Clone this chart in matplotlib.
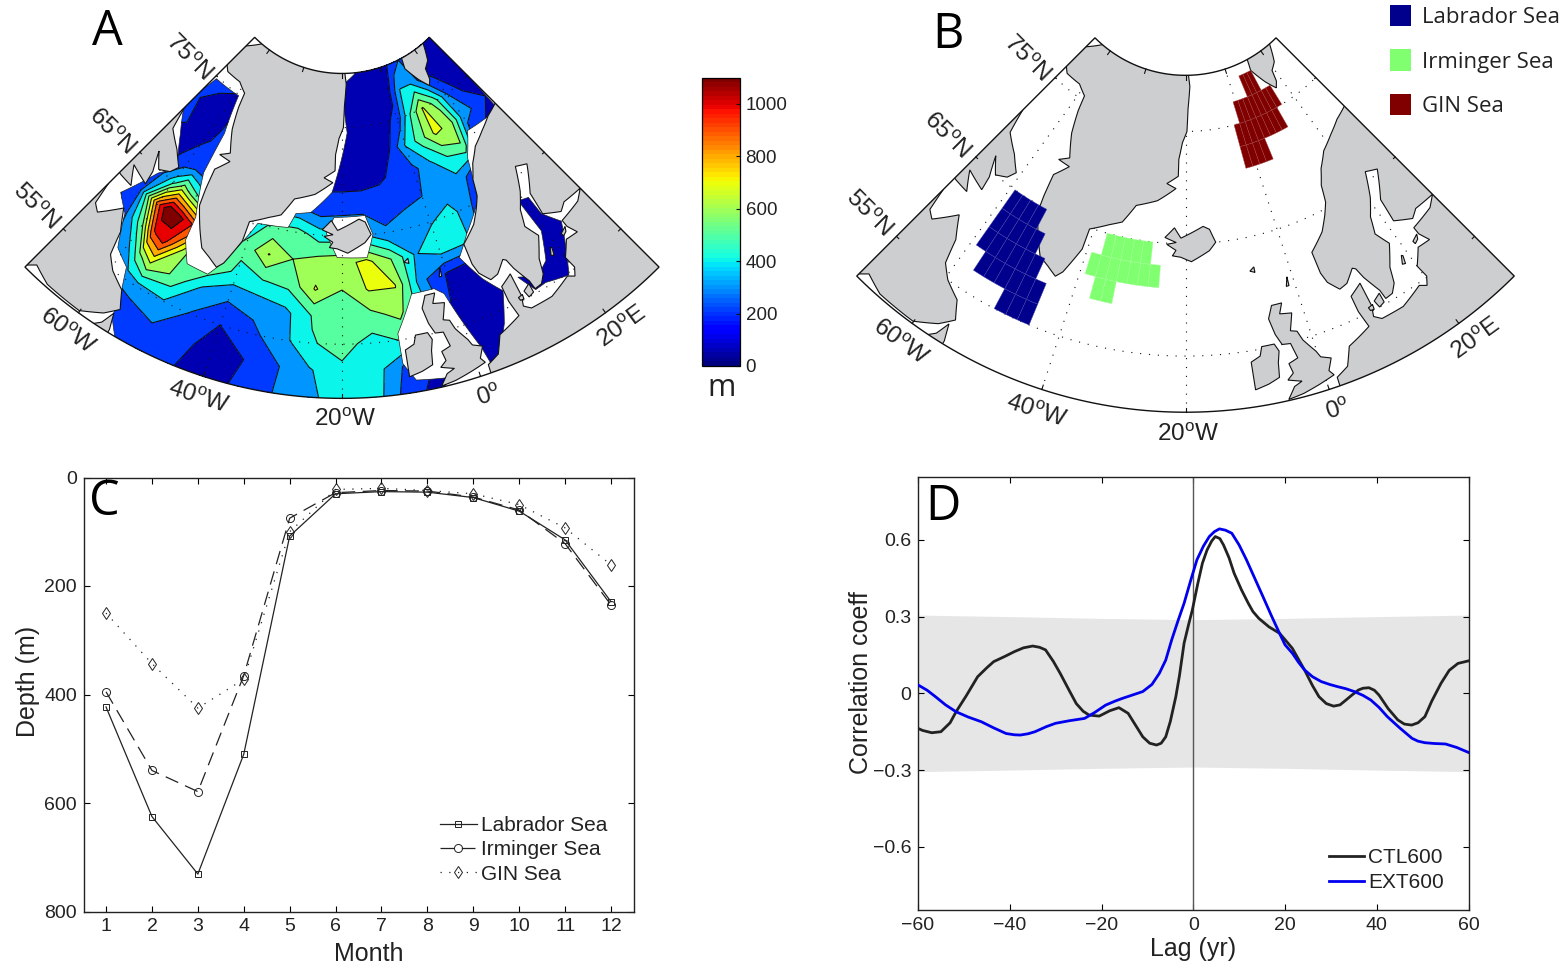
import numpy as np
import matplotlib
matplotlib.use('Agg')
import matplotlib.pyplot as plt
from matplotlib.path import Path
from matplotlib.patches import PathPatch, Patch
from matplotlib.collections import PolyCollection
from matplotlib.colors import ListedColormap, Normalize
from matplotlib.cm import ScalarMappable

plt.rcParams['font.family'] = ['Liberation Sans', 'DejaVu Sans']
plt.rcParams['mathtext.fontset'] = 'custom'
plt.rcParams['mathtext.rm'] = 'Liberation Sans'
plt.rcParams['text.color'] = '#222222'
plt.rcParams['axes.labelcolor'] = '#222222'
plt.rcParams['xtick.labelcolor'] = '#222222'
plt.rcParams['ytick.labelcolor'] = '#222222'

# ---------------- panel A: mixed-layer depth (m), rows by latitude -----------
grid_lon = [-70, -65, -60, -57.5, -55, -50, -45, -40, -35, -30, -25, -20, -15, -10, -5, 0, 5, 10, 15, 20, 25, 30]
grid_lat = [50, 52.5, 55, 57.5, 60, 62.5, 65, 67.5, 70, 72.5, 75, 77.5, 80]
mld_50 = [150, 150, 150, 150, 150, 170, 105, 60, 115, 200, 280, 340, 340, 130, 60, 60, 50, 50, 50, 50, 50, 50]
mld_52 = [100, 100, 120, 135, 150, 190, 130, 60, 100, 190, 290, 375, 350, 170, 80, 70, 60, 50, 50, 50, 50, 50]
mld_55 = [100, 150, 200, 225, 250, 290, 190, 100, 170, 260, 390, 440, 360, 410, 100, 50, 40, 30, 50, 50, 50, 50]
mld_57 = [100, 150, 250, 450, 600, 470, 280, 210, 230, 270, 410, 450, 470, 530, 300, 60, 50, 50, 50, 50, 50, 50]
mld_60 = [100, 100, 480, 880, 950, 500, 500, 370, 395, 420, 610, 500, 610, 605, 230, 90, 60, 50, 50, 50, 50, 50]
mld_62 = [100, 110, 850, 1095, 1050, 820, 350, 430, 605, 500, 540, 560, 630, 500, 290, 370, 360, 150, 100, 50, 50, 50]
mld_65 = [100, 100, 350, 550, 450, 300, 300, 350, 430, 440, 350, 350, 300, 210, 270, 290, 340, 200, 100, 50, 50, 50]
mld_67 = [80, 80, 120, 115, 110, 150, 200, 200, 200, 180, 130, 150, 170, 170, 170, 200, 240, 260, 100, 50, 50, 50]
mld_70 = [120, 90, 90, 105, 120, 150, 120, 100, 90, 80, 80, 70, 60, 80, 130, 170, 280, 400, 480, 100, 50, 50]
mld_72 = [110, 70, 70, 95, 120, 120, 100, 90, 80, 70, 70, 70, 50, 60, 100, 310, 450, 620, 580, 250, 180, 90]
mld_75 = [120, 120, 100, 100, 100, 80, 80, 70, 60, 60, 60, 60, 50, 60, 70, 130, 400, 610, 450, 200, 70, 50]
mld_77 = [60, 60, 60, 60, 60, 60, 60, 60, 60, 60, 60, 50, 40, 50, 50, 70, 300, 300, 150, 60, 50, 50]
mld_80 = [50, 50, 50, 50, 50, 50, 50, 50, 50, 50, 50, 50, 50, 50, 50, 50, 120, 200, 150, 60, 50, 50]
mld_levels = [0, 100, 200, 300, 400, 500, 600, 700, 800, 900, 1000, 1100]
cbar_ticks = [0, 200, 400, 600, 800, 1000]

# model ocean outline (lon, lat)
ocean_main = [(-53.7, 49), (-53.7, 49.9), (-55.6, 51.4), (-56.4, 53.7), (-58, 56), (-61.1, 57), (-63.9, 59.9), (-67.1, 61.1),
              (-63.9, 64.7), (-61.2, 66.2), (-65.9, 68.8), (-71, 71.2), (-69.2, 74.8), (-59.3, 74.9), (-56.3, 71.3),
              (-55.4, 67.2), (-51.9, 63.3), (-51.5, 61), (-49.2, 59.1), (-45, 59), (-43.9, 59.9), (-40, 63.9), (-39, 65),
              (-32.2, 65.3), (-31, 66.7), (-27.5, 67), (-22.6, 69), (-18.2, 74.5), (-20, 78.9), (-13.5, 79.9), (-13.5, 81),
              (31, 81), (29.4, 70.9), (18.7, 71.1), (14.6, 69), (11.6, 65.1), (6.4, 62.8), (3.2, 61), (5.7, 58.4), (8.1, 56.6),
              (6.1, 53.8), (3.7, 51.4), (2, 50.9), (1.5, 52.5), (-0.3, 55.8), (-1.6, 58.3), (-3.1, 59), (-7.3, 59), (-10.8, 55.6),
              (-10.7, 52.8), (-9.1, 51.1), (-4.3, 50.7), (-5.4, 49.9), (-5.4, 49)]
ocean_baltic = [(19, 63.1), (21.1, 62.8), (21.2, 60.9), (23.3, 59.2), (18.8, 54.8), (15, 55.4), (13, 55.3), (11.4, 57.1),
                (14.5, 56.3), (17, 57.1), (19.3, 59.6)]
iceland_mask = [(-21.9, 66.7), (-14.5, 66.8), (-13.1, 65), (-14.8, 62.9), (-21, 63), (-23.5, 65.2)]

# coastlines (lon, lat)
greenland = [(-19, 81), (-18, 79), (-19, 77), (-19.5, 75), (-21, 74), (-22, 72.5), (-22, 71), (-25, 70.3), (-22.5, 69.9), (-27, 68.7),
             (-32, 68), (-34.4, 66.3), (-37, 65.8), (-40.9, 64.9), (-41, 63), (-43, 60.5), (-44, 59.9), (-46, 60.5), (-48, 61),
             (-50, 62.5), (-52.4, 64.4), (-53, 66), (-53.5, 68), (-51, 69.3), (-54.3, 69.4), (-52, 70), (-55, 72), (-57, 74),
             (-58, 75.4), (-62, 76), (-68, 76), (-71, 76.6), (-73, 78.2), (-65, 80), (-60, 81.5)]
baffin = [(-72, 71.3), (-70, 70.9), (-68.3, 68.7), (-64, 67.5), (-61, 66.3), (-62, 65.5), (-64.3, 65), (-67, 66.3), (-65, 64.5),
          (-64.5, 63.2), (-69, 63.8), (-66.5, 62.2), (-69.5, 62.3), (-72, 62.5)]
labrador = [(-72, 61), (-70, 60.9), (-69.2, 58.8), (-67.8, 58.3), (-64.7, 60.2), (-62.4, 58.3), (-61.4, 56.1), (-59.5, 55),
            (-56.6, 54), (-55.2, 52.4), (-57, 51.3), (-60.1, 50.2), (-66, 50.25), (-69, 50.9), (-72, 49)]
newfoundland = [(-55.7, 51.8), (-56.5, 50.5), (-58.2, 49.5), (-55, 49.5), (-55, 50.3)]
iceland = [(-24.5, 65.5), (-22.5, 66.4), (-21, 65.5), (-18, 66.1), (-16, 66.5), (-14.6, 66.2), (-13.5, 65), (-15, 64.3), (-18.8, 63.4),
           (-21, 63.8), (-22.7, 63.9), (-22, 64.4), (-24, 64.9), (-22, 65.1)]
ireland = [(-10, 52), (-10, 54), (-8.5, 54.4), (-8, 55.2), (-6, 55.2), (-5.5, 54.5), (-6, 53.5), (-6.3, 52.2), (-8, 51.8), (-10, 51.5)]
britain = [(-5.7, 50.1), (-3.5, 50.3), (-1, 50.7), (1.3, 51.1), (0.8, 51.6), (1.7, 52.6), (0.3, 53), (-0.1, 53.6), (-1.5, 54.9), (-2, 55.8),
           (-3, 56), (-2, 57.5), (-4, 57.7), (-3.2, 58.6), (-5, 58.6), (-6, 57.5), (-5.5, 56), (-4.8, 55), (-3.5, 54.9), (-3, 53.5),
           (-4.5, 53.2), (-4.2, 52.3), (-5.2, 51.8), (-3.3, 51.4), (-4.5, 51.1)]
europe = [(26, 71), (22, 70.3), (18, 69.5), (15, 68.3), (13, 67), (12, 65.5), (10.5, 64.5), (8.5, 63.3), (5, 62), (5, 60), (5.5, 59), (7, 58),
          (8.5, 58.2), (10.5, 59.2), (11, 59), (11.5, 58), (12.8, 56.3), (13, 55.4), (14.3, 55.5), (15.4, 56.2), (16.2, 57.6), (18.4, 59.4),
          (17.2, 60.8), (18.3, 62.3), (20.5, 63.7), (23, 65.8), (25.4, 65.3), (21.9, 63), (21.4, 60.8), (24.4, 59.9), (26, 60.4),
          (30, 60.3), (28, 59.6), (23.5, 59.2), (23.5, 58.5), (24.3, 57.5), (22, 57.6), (20, 56.3), (20.3, 55.1), (19.5, 54.4), (18.5, 54.8),
          (14.7, 54), (11, 54), (10, 54.5), (10.5, 55.5), (10.5, 57.7), (8.2, 57), (8.2, 55.5), (8.7, 53.9), (7, 53.5), (4.8, 53),
          (3.5, 51.4), (1.6, 50.8), (1.5, 49), (36, 49), (36, 72), (29, 71.3)]
svalbard = [(16.5, 76.5), (14, 77.5), (11, 79), (12, 80), (16, 80.2), (20, 80.6), (27, 80.6), (22, 78.5), (19, 78), (18, 77)]
zealand = [(11.2, 55.7), (12.5, 56.1), (12.5, 55.2), (11.5, 55)]
funen = [(9.9, 55.4), (10.7, 55.5), (10.6, 55.05), (10, 55.1)]
gotland = [(18.2, 57.2), (18.9, 57.9), (19.1, 57.8), (18.7, 57.1)]
saaremaa = [(21.9, 58.3), (23.2, 58.6), (22.8, 58.2), (22, 58)]
faroe = [(-7.5, 62), (-6.6, 62.3), (-6.6, 61.8)]
shetland = [(-1.6, 59.9), (-1, 60.7), (-1.1, 59.9)]
land_polygons = [greenland, baffin, labrador, newfoundland, iceland, ireland, britain, europe, svalbard, zealand, funen,
                 gotland, saaremaa, faroe, shetland]

# ---------------- panel B: regions as (lat0, lat1, lon0, lon1) rows of 2-degree cells -----------
labrador_rows = [(55, 57, -51, -45), (57, 59, -57, -45), (59, 61, -59, -47), (61, 63, -59, -49), (63, 65, -59, -51)]
irminger_rows = [(59, 61, -37, -33), (61, 63, -39, -25), (63, 65, -37, -27)]
gin_rows = [(71, 73, -3, 5), (73, 75, -3, 13), (75, 77, -1, 15), (77, 79, 5, 11)]
region_names = ['Labrador Sea', 'Irminger Sea', 'GIN Sea']
region_colors = ['#00008C', '#80FF70', '#800000']

# ---------------- panel C -----------
months = list(range(1, 13))
depth_lab = [423, 625, 731, 510, 108, 30, 26, 27, 37, 62, 115, 229]
depth_irm = [395, 540, 579, 365, 75, 28, 24, 25, 36, 60, 122, 235]
depth_gin = [250, 343, 425, 372, 100, 22, 20, 24, 30, 50, 93, 161]

# ---------------- panel D -----------
band_lag = [-60, -40, -20, 0, 20, 40, 60]
band_half = [0.306, 0.30, 0.293, 0.288, 0.293, 0.30, 0.306]
ctl_lag = [-60, -59, -57, -55, -53, -51.7, -49.5, -47, -45, -43.5, -41, -39, -37, -35, -33.5, -32.2, -30.5, -29, -27, -25.5, -24, -22.7,
           -20.5, -18.2, -16.2, -14.2, -11, -9.5, -8, -7, -6, -5, -3.8, -3, -2, -1, -0.2, 1, 2, 3, 4, 4.8, 5.8, 6.6, 7.8, 8.9, 10.5, 12,
           13, 14.3, 16.5, 18.8, 20, 21.6, 24.3, 26, 27.4, 29, 30.6, 32, 33.3, 34.5, 36, 37, 38.3, 39.5, 40.5, 42.5, 44.6, 46, 47.6, 49,
           50.5, 52, 54, 55.8, 57.7, 60]
ctl_r = [-0.137, -0.145, -0.154, -0.15, -0.115, -0.072, -0.01, 0.065, 0.1, 0.124, 0.145, 0.163, 0.178, 0.185, 0.18, 0.17, 0.125, 0.078,
         0.01, -0.04, -0.07, -0.085, -0.089, -0.068, -0.056, -0.078, -0.17, -0.195, -0.202, -0.195, -0.17, -0.11, -0.013, 0.07, 0.196,
         0.27, 0.326, 0.43, 0.509, 0.56, 0.595, 0.613, 0.605, 0.58, 0.53, 0.47, 0.405, 0.352, 0.32, 0.293, 0.26, 0.235, 0.21, 0.176,
         0.09, 0.03, -0.013, -0.04, -0.05, -0.045, -0.026, -0.008, 0.013, 0.02, 0.022, 0.012, -0.007, -0.06, -0.104, -0.12, -0.124,
         -0.115, -0.091, -0.03, 0.039, 0.09, 0.117, 0.127]
ext_lag = [-60, -58, -56.2, -54, -51.7, -49, -46.2, -43.5, -40.8, -39, -37.7, -36, -34.5, -32, -30, -27, -23.7, -21.5, -19.1, -17, -15.5,
           -13, -11, -9, -7.4, -6, -4.7, -3.3, -2, -0.5, 0.8, 2.2, 3.5, 4.6, 5.7, 7, 8.4, 10, 11.6, 13.4, 15.2, 17, 18.8, 20, 21.6, 23,
           24.3, 26, 27.9, 29.7, 31.5, 33.3, 35.1, 37, 38.7, 40.5, 42.3, 45, 47.7, 49, 50.5, 52.5, 55, 57.5, 60]
ext_r = [0.033, 0.012, -0.013, -0.045, -0.072, -0.093, -0.111, -0.135, -0.157, -0.162, -0.163, -0.158, -0.15, -0.13, -0.117, -0.107,
         -0.098, -0.075, -0.046, -0.03, -0.02, -0.005, 0.007, 0.035, 0.078, 0.13, 0.209, 0.285, 0.352, 0.445, 0.522, 0.575, 0.613, 0.632,
         0.643, 0.638, 0.626, 0.58, 0.522, 0.45, 0.378, 0.305, 0.235, 0.19, 0.157, 0.12, 0.091, 0.065, 0.046, 0.035, 0.026, 0.018, 0.007,
         -0.008, -0.026, -0.055, -0.091, -0.135, -0.176, -0.187, -0.193, -0.196, -0.198, -0.212, -0.231]

# ---------------- figure -----------
W, H = 1568, 969
fig = plt.figure(figsize=(W / 100, H / 100), dpi=100, facecolor='white')


def px_axes(left, top, right, bottom, **kw):
    return fig.add_axes([left / W, 1 - bottom / H, (right - left) / W, (bottom - top) / H], **kw)


APEX_LAT = 91.4
CONE = 0.9
MID_LON = -20


def project(lon, lat):
    lon = np.asarray(lon, float)
    lat = np.asarray(lat, float)
    rho = APEX_LAT - lat
    th = np.radians(CONE * (lon - MID_LON))
    return rho * np.sin(th), -rho * np.cos(th)


def densify(poly, closed=True, n=8):
    pts = list(poly) + ([poly[0]] if closed else [])
    lon, lat = [], []
    for (a, b), (c, d) in zip(pts[:-1], pts[1:]):
        for t in np.linspace(0, 1, n, endpoint=False):
            lon.append(a + (c - a) * t)
            lat.append(b + (d - b) * t)
    lon.append(pts[-1][0])
    lat.append(pts[-1][1])
    return project(lon, lat)


def poly_path(poly):
    x, y = densify(poly)
    return Path(np.column_stack([x, y]), closed=True)


def map_axes(left, top, right, bottom, cx, cy, scale):
    ax = px_axes(left, top, right, bottom)
    ax.set_xlim((left - cx) / scale, (right - cx) / scale)
    ax.set_ylim(-(bottom - cy) / scale, -(top - cy) / scale)
    ax.axis('off')
    return ax


def sector_patch(ax):
    lons = np.linspace(-70, 30, 120)
    x1, y1 = project(lons, np.full_like(lons, 50.0))
    x2, y2 = project(lons[::-1], np.full_like(lons, 80.0))
    verts = np.column_stack([np.r_[x1, x2, x1[0]], np.r_[y1, y2, y1[0]]])
    p = PathPatch(Path(verts, closed=True), fc='none', ec='#111111', lw=1.0, zorder=8, transform=ax.transData)
    ax.add_patch(p)
    return p


def draw_land(ax, sector):
    for poly in land_polygons:
        p = PathPatch(poly_path(poly), fc='#CDCED0', ec='#111111', lw=0.8, zorder=5)
        ax.add_patch(p)
        p.set_clip_path(sector)


def draw_graticule(ax, sector):
    style = dict(color='#111111', lw=0.8, ls=(0, (1, 7)), zorder=4.5)
    for lon in [-60, -40, -20, 0, 20]:
        x, y = project(np.full(40, lon), np.linspace(50, 80, 40))
        ax.plot(x, y, **style)
        for a, b in [(50, 50.4), (79.6, 80)]:
            x, y = project([lon, lon], [a, b])
            ax.plot(x, y, color='#111111', lw=0.8, zorder=6)
    for lat in [55, 65, 75]:
        x, y = project(np.linspace(-70, 30, 120), np.full(120, lat))
        ax.plot(x, y, **style)
        for a, b in [(-70, -69.5), (29.5, 30)]:
            x, y = project([a, b], [lat, lat])
            ax.plot(x, y, color='#111111', lw=0.8, zorder=6)


def draw_map_labels(ax):
    deg = r'$^{\mathrm{o}}$'
    items = [(-81.2, 74.1, '75' + deg + 'N', -45), (-77.5, 64.3, '65' + deg + 'N', -45), (-75.6, 54.5, '55' + deg + 'N', -45),
             (-59.8, 48.0, '60' + deg + 'W', -36), (-39.8, 48.0, '40' + deg + 'W', -18), (-19.6, 48.0, '20' + deg + 'W', 0),
             (0.3, 48.0, '0' + deg, 18), (20.6, 48.0, '20' + deg + 'E', 36)]
    for lon, lat, s, rot in items:
        x, y = project(lon, lat)
        ax.text(float(x), float(y), s, fontsize=17.5, rotation=rot, rotation_mode='anchor', ha='center', va='center', zorder=9)


# --- A ---
ax_a = map_axes(0, 0, 800, 450, 342, -50, 10.83)
sector_a = sector_patch(ax_a)
field = np.array([mld_50, mld_52, mld_55, mld_57, mld_60, mld_62, mld_65, mld_67, mld_70, mld_72, mld_75, mld_77, mld_80], float)
LON, LAT = np.meshgrid(grid_lon, grid_lat)
X, Y = project(LON, LAT)
jet = plt.get_cmap('jet')
fill_colors = [jet(0.045)] + [jet(v / 1100) for v in mld_levels[2:]]
cf = ax_a.contourf(X, Y, field, levels=mld_levels, colors=fill_colors, zorder=1)
cl = ax_a.contour(X, Y, field, levels=mld_levels[1:-1], colors='#111111', linewidths=0.8, zorder=2)
ocean_path = Path.make_compound_path(poly_path(ocean_main), poly_path(ocean_baltic))
ocean_clip = PathPatch(ocean_path, fc='none', ec='none', transform=ax_a.transData)
ax_a.add_patch(ocean_clip)
cf.set_clip_path(ocean_clip)
cl.set_clip_path(ocean_clip)
for poly in (ocean_main, ocean_baltic):
    edge = PathPatch(poly_path(poly), fc='none', ec='#222222', lw=0.5, zorder=3)
    ax_a.add_patch(edge)
    edge.set_clip_path(sector_a)
ax_a.add_patch(PathPatch(poly_path(iceland_mask), fc='white', ec='#222222', lw=0.5, zorder=4))
draw_land(ax_a, sector_a)
draw_graticule(ax_a, sector_a)
draw_map_labels(ax_a)

# colour bar
cax = px_axes(701.5, 77.5, 740, 366)
cbar_map = ListedColormap(jet(np.linspace(0, 1, 64)))
cb = fig.colorbar(ScalarMappable(Normalize(mld_levels[0], mld_levels[-1]), cbar_map), cax=cax, ticks=cbar_ticks)
cb.ax.tick_params(direction='in', length=3, width=0.8, labelsize=13.5, pad=4, colors='#111111', labelcolor='#222222')
cb.outline.set_linewidth(0.9)
fig.text(722 / W, 1 - 388 / H, 'm', fontsize=22, family='Open Sans', ha='center', va='center')

# --- B ---
ax_b = map_axes(830, 0, 1568, 460, 1185.5, -52.7, 11.23)
sector_b = sector_patch(ax_b)
draw_land(ax_b, sector_b)
draw_graticule(ax_b, sector_b)
for rows, col in zip((labrador_rows, irminger_rows, gin_rows), region_colors):
    cells = []
    for lat0, lat1, lon0, lon1 in rows:
        for lon in np.arange(lon0, lon1, 2):
            x, y = densify([(lon, lat0), (lon + 2, lat0), (lon + 2, lat1), (lon, lat1)], n=3)
            cells.append(np.column_stack([x, y]))
    rgb = np.array(matplotlib.colors.to_rgb(col))
    ax_b.add_collection(PolyCollection(cells, facecolors=col, edgecolors=[tuple(rgb * 0.75 + 0.25)], linewidths=0.3, zorder=7))
draw_map_labels(ax_b)
fig.legend(handles=[Patch(fc=c, ec='none') for c in region_colors], labels=region_names, loc='upper left',
           bbox_to_anchor=(1370 / W, 1 + 15 / H), frameon=False, handlelength=0.95, handleheight=1.1, handletextpad=0.5,
           labelspacing=0.95, prop={'family': 'Open Sans', 'size': 16})

# --- C ---
ax_c = px_axes(84, 477.5, 634, 911.5)
ax_c.plot(months, depth_lab, '-', color='#222222', lw=0.9, marker='s', ms=4.5, mfc='none', mew=0.7, label=region_names[0])
ax_c.plot(months, depth_irm, color='#222222', lw=0.9, ls=(0, (11, 6)), marker='o', ms=5.8, mfc='none', mew=0.7, label=region_names[1])
ax_c.plot(months, depth_gin, color='#222222', lw=0.9, ls=(0, (1, 6)), marker='d', ms=6.5, mfc='none', mew=0.7, label=region_names[2])
ax_c.set_xlim(0.52, 12.5)
ax_c.set_ylim(800, 0)
ax_c.set_xticks(months)
ax_c.set_yticks([0, 200, 400, 600, 800])
ax_c.tick_params(direction='in', top=True, right=True, length=4, width=0.8, labelsize=14, pad=5)
ax_c.set_xlabel('Month', fontsize=18, labelpad=5, x=0.518)
ax_c.set_ylabel('Depth (m)', fontsize=18, labelpad=3, y=0.529)
ax_c.legend(loc='lower left', bbox_to_anchor=(0.613, 0.021), frameon=False, fontsize=15, handlelength=1.78, handletextpad=0.2,
            labelspacing=0.25)

# --- D ---
ax_d = px_axes(918, 476.7, 1468.5, 910)
ax_d.fill_between(band_lag, [-v for v in band_half], band_half, color='#E6E6E6', lw=0, zorder=1)
ax_d.axvline(0, color='#555555', lw=1.0, zorder=2)
ax_d.plot(ctl_lag, ctl_r, color='#222222', lw=2.0, label='CTL600', zorder=3, solid_joinstyle='round')
ax_d.plot(ext_lag, ext_r, color='#0000EE', lw=2.0, label='EXT600', zorder=4, solid_joinstyle='round')
ax_d.set_xlim(-60, 60)
ax_d.set_ylim(-0.847, 0.847)
ax_d.set_xticks([-60, -40, -20, 0, 20, 40, 60])
ax_d.set_xticklabels(['\u221260', '\u221240', '\u221220', '0', '20', '40', '60'])
ax_d.set_yticks([-0.6, -0.3, 0, 0.3, 0.6])
ax_d.set_yticklabels(['\u22120.6', '\u22120.3', '0', '0.3', '0.6'])
ax_d.tick_params(direction='in', top=True, right=True, length=4, width=0.8, labelsize=14, pad=5)
ax_d.set_xlabel('Lag (yr)', fontsize=18, labelpad=2)
ax_d.set_ylabel('Correlation coeff', fontsize=18, labelpad=0, y=0.524)
ax_d.legend(loc='lower right', bbox_to_anchor=(0.99, -0.002), frameon=False, fontsize=15, handlelength=1.7, handletextpad=0.2,
            labelspacing=0.28)

for ax in (ax_c, ax_d):
    for s in ax.spines.values():
        s.set_linewidth(1.0)
        s.set_color('#222222')

# panel letters
for s, px, py in [('A', 107, 32), ('B', 948, 35), ('C', 104, 502), ('D', 943, 507)]:
    fig.text(px / W, 1 - py / H, s, fontsize=35, family='Open Sans', color='black', ha='center', va='center', zorder=20)

fig.savefig('out.png', dpi=100)
